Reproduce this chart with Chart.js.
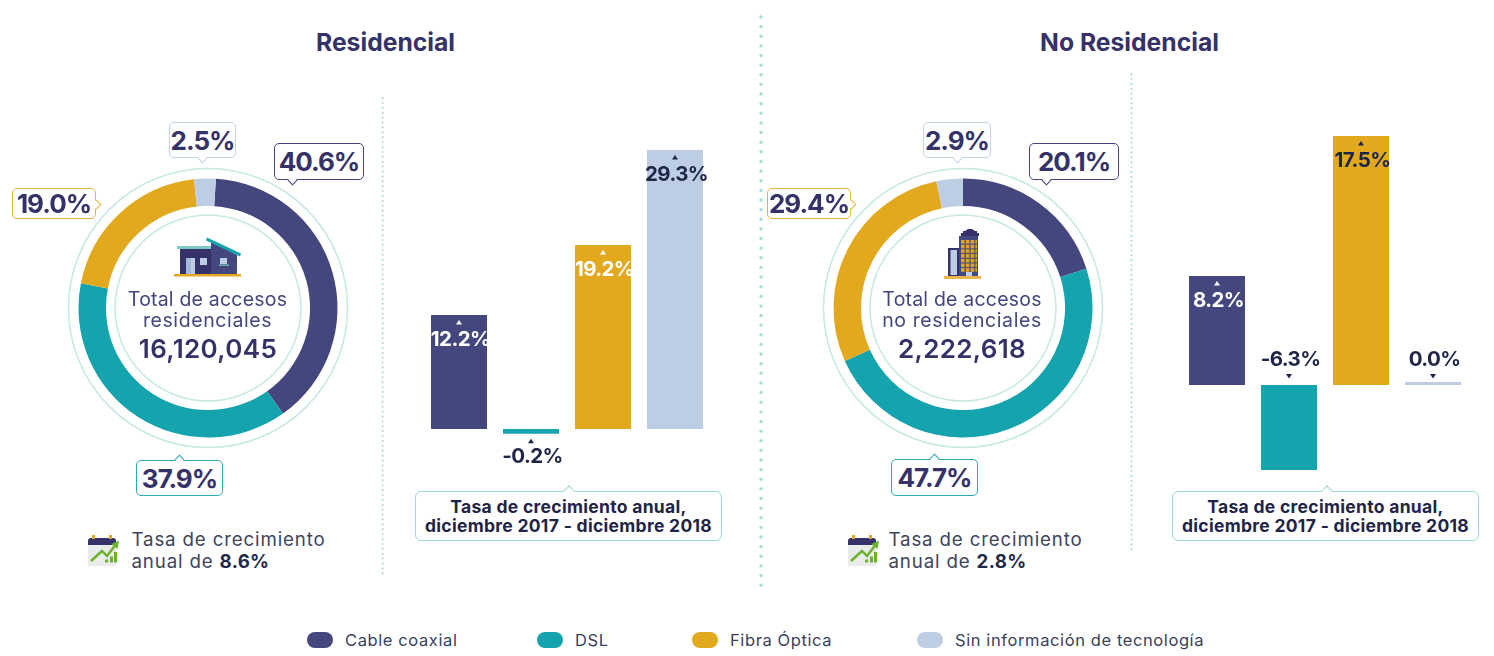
<!DOCTYPE html>
<html lang="es">
<head>
<meta charset="utf-8">
<title>Accesos residenciales y no residenciales</title>
<script src="https://cdn.jsdelivr.net/npm/chart.js@4/dist/chart.umd.min.js"></script>
<style>
html,body{margin:0;padding:0;background:#fff;width:1494px;height:656px;overflow:hidden;font-family:Inter,"Noto Sans",sans-serif}
#stage{position:relative;width:1494px;height:656px}
canvas{position:absolute}
.t{position:absolute;white-space:nowrap;line-height:1}
.title{font-size:24.7px;font-weight:700;color:#343269;transform:translateX(-50%);text-align:center}
.cen{font-size:19.5px;font-weight:400;color:#44477d;transform:translateX(-50%);letter-spacing:.2px}
.total{font-size:26px;font-weight:600;color:#343269;transform:translateX(-50%);letter-spacing:.35px}
.grow{font-size:18.7px;color:#3d4560;letter-spacing:.85px}
.grow b{font-weight:700;color:#23294a;letter-spacing:.3px}
.call{position:absolute;box-sizing:border-box;background:#fff;border:1.5px solid;border-radius:5px;color:#343269;font-size:26px;font-weight:700;letter-spacing:-1px;display:flex;align-items:center;justify-content:center}
.call i{position:absolute;width:7px;height:7px;background:#fff;border:solid;border-width:1.5px 0 0 1.5px;border-color:inherit;box-sizing:border-box}
.note{position:absolute;box-sizing:border-box;background:#fff;border:1.5px solid #9bd8d5;border-radius:6px;color:#1f2547;font-size:17.5px;font-weight:700;text-align:center;line-height:19px;letter-spacing:.3px;padding-top:5px}
.note i{position:absolute;top:-5px;width:8px;height:8px;background:#fff;border:solid #9bd8d5;border-width:1.5px 0 0 1.5px;box-sizing:border-box;transform:rotate(45deg);margin-left:-4px}
.sw{position:absolute;width:26px;height:16px;border-radius:8px;top:632px}
.lg{font-size:16.5px;color:#3a3f5c;letter-spacing:.6px;top:632px}
svg{position:absolute;left:0;top:0}
</style>
</head>
<body>
<div id="stage">
<svg width="1494" height="656" id="deco">
  <line x1="761" y1="17" x2="761" y2="586" stroke="#a5dcd8" stroke-width="3.4" stroke-linecap="round" stroke-dasharray="0 9.63"/>
  <line x1="382.7" y1="98" x2="382.7" y2="577" stroke="#9bd8d5" stroke-width="1.9" stroke-linecap="round" stroke-dasharray="0 4.9"/>
  <line x1="1131.5" y1="74" x2="1131.5" y2="552" stroke="#9bd8d5" stroke-width="1.9" stroke-linecap="round" stroke-dasharray="0 4.9"/>
  <defs>
    <pattern id="win" x="961" y="240" width="4.8" height="4.7" patternUnits="userSpaceOnUse"><rect width="3.6" height="3.6" fill="#e3a91e"/></pattern>
    <g id="cal">
      <rect x="88" y="544" width="28" height="22" fill="#e9ebea"/>
      <path d="M88 545v-4a3 3 0 0 1 3-3h22a3 3 0 0 1 3 3v4z" fill="#343269"/>
      <rect x="92" y="535" width="3" height="4" fill="#e3a91e"/><rect x="109" y="535" width="3" height="4" fill="#e3a91e"/>
      <rect x="105" y="559.5" width="3" height="3" fill="#6cb22d"/><rect x="110" y="556.5" width="3" height="6" fill="#6cb22d"/><rect x="114" y="552" width="3" height="10.5" fill="#6cb22d"/>
      <polyline points="91,561 102,551 107,556 115.5,545" fill="none" stroke="#6cb22d" stroke-width="2.4"/>
      <polygon points="119,540.5 117.5,549 111.5,544" fill="#6cb22d"/>
    </g>
  </defs>
  <!-- casa -->
  <rect x="174" y="274" width="67" height="2.5" fill="#e3a91e"/>
  <rect x="180" y="249" width="31" height="25" fill="#343269"/>
  <polygon points="211,241 237,255 237,274 211,274" fill="#44477d"/>
  <rect x="177" y="246" width="34" height="3" fill="#7ecbc5"/>
  <polygon points="207,237.5 241,253.5 240,256.5 206,240.5" fill="#15a3ad"/>
  <rect x="186" y="258" width="9" height="16" fill="#bdcde4"/><rect x="186" y="258" width="5" height="16" fill="#a3b9d8"/>
  <rect x="200" y="258" width="7" height="7" fill="#bdcde4"/>
  <rect x="220" y="258" width="7" height="6" fill="#bdcde4"/><rect x="219" y="264.5" width="10" height="1.2" fill="#7ecbc5"/>
  <!-- edificio -->
  <rect x="944" y="276" width="37" height="3" fill="#eab54a"/>
  <path d="M961 236v-3h2v-2h2l3-2h4l3 2h2v2h2v3z" fill="#343269"/>
  <rect x="959" y="236" width="19" height="40" fill="#44477d"/>
  <rect x="961" y="240" width="16" height="32.5" fill="url(#win)"/>
  <rect x="966" y="272" width="6" height="4" fill="#bdcde4"/>
  <rect x="948" y="248" width="11" height="28" fill="#343269"/>
  <rect x="950.5" y="250" width="6.5" height="25" fill="#bdcde4"/>
  <use href="#cal"/>
  <use href="#cal" x="760"/>
</svg>

<canvas id="donutRes" width="300" height="300" style="left:58px;top:158px"></canvas>
<canvas id="donutNoRes" width="300" height="300" style="left:813px;top:158px"></canvas>
<canvas id="barsRes" width="288" height="340" style="left:423px;top:130px"></canvas>
<canvas id="barsNoRes" width="288" height="350" style="left:1181px;top:130px"></canvas>

<div class="t title" style="left:385.5px;top:30px">Residencial</div>
<div class="t title" style="left:1129.5px;top:30px">No Residencial</div>

<div class="t cen" style="left:207.5px;top:290px">Total de accesos</div>
<div class="t cen" style="left:207.5px;top:311px;letter-spacing:.6px">residenciales</div>
<div class="t total" style="left:208px;top:336px">16,120,045</div>
<div class="t cen" style="left:962px;top:290px">Total de accesos</div>
<div class="t cen" style="left:962px;top:311px;letter-spacing:.6px">no residenciales</div>
<div class="t total" style="left:962px;top:336px">2,222,618</div>

<div class="call" style="left:169px;top:122px;width:67px;height:36px;border-color:#c3d2e8">2.5%<i style="left:29px;bottom:-5px;transform:rotate(225deg)"></i></div>
<div class="call" style="left:274px;top:143px;width:90px;height:37px;border-color:#44477d">40.6%<i style="left:14px;bottom:-5px;transform:rotate(225deg)"></i></div>
<div class="call" style="left:12px;top:188px;width:84px;height:31px;border-color:#e6b437">19.0%<i style="right:-5px;top:12px;transform:rotate(135deg)"></i></div>
<div class="call" style="left:136px;top:460px;width:87px;height:36px;border-color:#2fa8b4">37.9%<i style="left:39px;top:-5px;transform:rotate(45deg)"></i></div>
<div class="call" style="left:923px;top:122px;width:68px;height:36px;border-color:#c3d2e8">2.9%<i style="left:30px;bottom:-5px;transform:rotate(225deg)"></i></div>
<div class="call" style="left:1029px;top:143px;width:90px;height:37px;border-color:#44477d">20.1%<i style="left:13px;bottom:-5px;transform:rotate(225deg)"></i></div>
<div class="call" style="left:767px;top:188px;width:84px;height:31px;border-color:#e6b437">29.4%<i style="right:-5px;top:12px;transform:rotate(135deg)"></i></div>
<div class="call" style="left:891px;top:459px;width:87px;height:37px;border-color:#2fa8b4">47.7%<i style="left:39px;top:-5px;transform:rotate(45deg)"></i></div>

<div class="note" style="left:415px;top:491px;width:307px;height:50px"><i style="left:153px"></i>Tasa de crecimiento anual,<br>diciembre 2017 - diciembre 2018</div>
<div class="note" style="left:1172px;top:491px;width:307px;height:50px"><i style="left:154px"></i>Tasa de crecimiento anual,<br>diciembre 2017 - diciembre 2018</div>

<div class="t grow" style="left:131.5px;top:531px">Tasa de crecimiento</div>
<div class="t grow" style="left:131.5px;top:553px">anual de <b>8.6%</b></div>
<div class="t grow" style="left:888.5px;top:531px">Tasa de crecimiento</div>
<div class="t grow" style="left:888.5px;top:553px">anual de <b>2.8%</b></div>

<div class="sw" style="left:307px;background:#44477d"></div><div class="t lg" style="left:345px">Cable coaxial</div>
<div class="sw" style="left:537px;background:#15a3ad"></div><div class="t lg" style="left:575px">DSL</div>
<div class="sw" style="left:692px;background:#e3a91e"></div><div class="t lg" style="left:730px">Fibra Óptica</div>
<div class="sw" style="left:917px;background:#bdcde4"></div><div class="t lg" style="left:955px">Sin información de tecnología</div>
</div>

<script>
// Categories
const technologies = ["Cable coaxial", "DSL", "Fibra Óptica", "Sin información de tecnología"];
const techColors = ["#44477d", "#15a3ad", "#e3a91e", "#bdcde4"];

// Doughnut slices (the printed labels are in the callouts)
const residencialArcs = [39.2, 37.9, 20.2, 2.7];
const noResidencialArcs = [20.1, 48.2, 28.4, 3.3];
const residencialRotation = 3.5;
const noResidencialRotation = 0;

const residencialGrowthBars = [11.97, -0.5, 19.32, 29.3];
const noResidencialGrowthBars = [7.68, -5.99, 17.54, 0.21];
const residencialGrowthLabels = ["12.2%", "-0.2%", "19.2%", "29.3%"];
const noResidencialGrowthLabels = ["8.2%", "-6.3%", "17.5%", "0.0%"];
const residencialLabelPlaces = ["inside", "below", "inside", "inside"];
const noResidencialLabelPlaces = ["inside", "above", "inside", "above"];
const residencialLabelColors = ["#ffffff", "#1f2547", "#ffffff", "#1f2547"];
const noResidencialLabelColors = ["#ffffff", "#1f2547", "#1f2547", "#1f2547"];

const rings = {
  id: "rings",
  beforeDraw(chart) {
    const a = chart.chartArea, c = chart.ctx;
    const cx = (a.left + a.right) / 2, cy = (a.top + a.bottom) / 2;
    const R = (a.right - a.left) / 2;
    c.save();
    c.strokeStyle = "#c5e8e5";
    c.lineWidth = 1.5;
    [R * 1.0772, R * 0.7181].forEach(r => {
      c.beginPath(); c.arc(cx, cy, r, 0, Math.PI * 2); c.stroke();
    });
    c.restore();
  }
};

const barLabels = {
  id: "barLabels",
  afterDatasetsDraw(chart, args, opts) {
    const c = chart.ctx;
    chart.getDatasetMeta(0).data.forEach((el, i) => {
      const place = opts.places[i];
      let tri, base, up = true;
      if (place === "inside") { tri = el.y + 5; base = el.y + 31; }
      else if (place === "below") { tri = el.y + 5; base = el.y + 29; }
      else { tri = el.base - 11; base = el.base - 19; up = false; }
      c.save();
      c.fillStyle = opts.colors[i];
      const tx = el.x;
      c.beginPath();
      if (up) { c.moveTo(tx, tri); c.lineTo(tx + 3, tri + 4.5); c.lineTo(tx - 3, tri + 4.5); }
      else { c.moveTo(tx - 3, tri); c.lineTo(tx + 3, tri); c.lineTo(tx, tri + 4.5); }
      c.closePath(); c.fill();
      c.font = '700 20.5px Inter, "Noto Sans", sans-serif';
      c.letterSpacing = "-0.6px";
      c.textAlign = "center";
      c.textBaseline = "alphabetic";
      c.fillText(opts.labels[i], el.x + 1.5, base);
      c.restore();
    });
  }
};

function donut(id, arcs, rotation) {
  new Chart(document.getElementById(id), {
    type: "doughnut",
    data: { labels: technologies, datasets: [{ data: arcs, backgroundColor: techColors, borderWidth: 0 }] },
    options: {
      responsive: false, animation: false, rotation, cutout: "78.8%",
      layout: { padding: 20.5 },
      plugins: { legend: { display: false }, tooltip: { enabled: false } }
    },
    plugins: [rings]
  });
}

function bars(id, values, labels, places, colors, min, max) {
  new Chart(document.getElementById(id), {
    type: "bar",
    data: { labels: technologies, datasets: [{ data: values, backgroundColor: techColors, borderWidth: 0, barPercentage: 56 / 72, categoryPercentage: 1 }] },
    options: {
      responsive: false, animation: false,
      layout: { padding: 0 },
      scales: { x: { display: false }, y: { display: false, min, max } },
      plugins: { legend: { display: false }, tooltip: { enabled: false }, barLabels: { labels, places, colors } }
    },
    plugins: [barLabels]
  });
}

function drawAll() {
  donut("donutRes", residencialArcs, residencialRotation);
  donut("donutNoRes", noResidencialArcs, noResidencialRotation);
  bars("barsRes", residencialGrowthBars, residencialGrowthLabels, residencialLabelPlaces, residencialLabelColors, -4.305, 31.395);
  bars("barsNoRes", noResidencialGrowthBars, noResidencialGrowthLabels, noResidencialLabelPlaces, noResidencialLabelColors, -6.69, 17.96);
}
if (document.fonts && document.fonts.load) {
  Promise.all([document.fonts.load('700 20px Inter'), document.fonts.ready]).then(drawAll, drawAll);
} else { drawAll(); }
</script>
</body>
</html>
